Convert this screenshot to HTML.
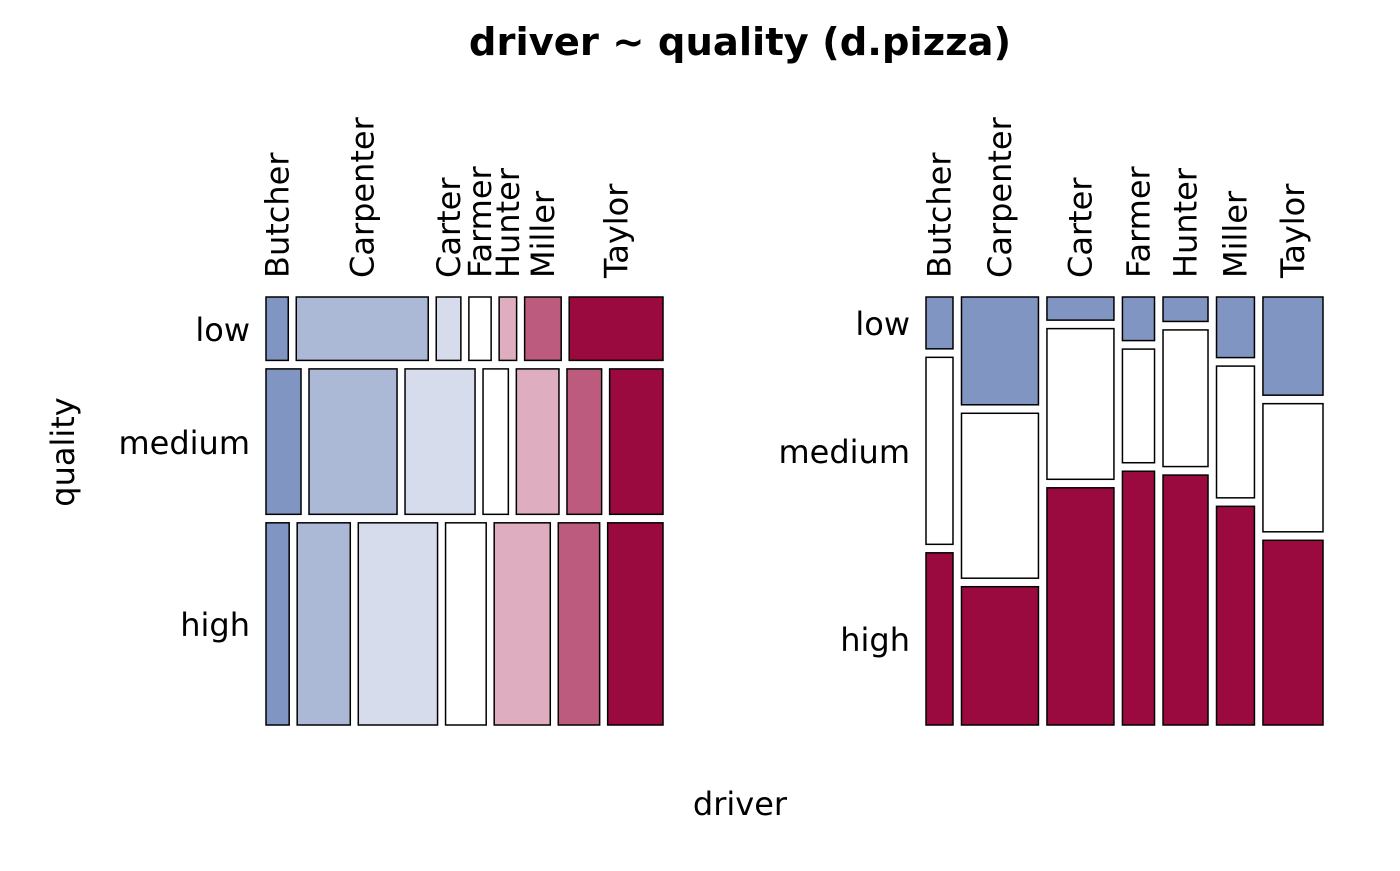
<!DOCTYPE html>
<html><head><meta charset="utf-8"><style>
body{margin:0;background:#fff}
svg text{font-family:"DejaVu Sans","Liberation Sans",sans-serif;fill:#000}
</style></head><body>
<svg id="chart" width="1400" height="866" xmlns="http://www.w3.org/2000/svg">
<text x="740" y="55" text-anchor="middle" font-size="38.5" font-weight="bold">driver ~ quality (d.pizza)</text>
<text x="740" y="815" text-anchor="middle" font-size="32">driver</text>
<text transform="translate(74,452) rotate(-90)" text-anchor="middle" font-size="32">quality</text>
<g id="left"></g>
<g id="right"></g>
</svg>
<script>
const drivers = ["Butcher","Carpenter","Carter","Farmer","Hunter","Miller","Taylor"];
const qualities = ["low","medium","high"];
const lowCounts = [28,166,31,28,22,46,118];
const mediumCounts = [101,254,202,73,123,100,154];
const highCounts = [93,213,318,163,225,166,222];
const driverColors = ["#8195c2","#abb8d6","#d6dcec","#ffffff","#deadbf","#bc5b7e","#9b0a3f"];
const qualityColors = ["#8195c2","#ffffff","#9b0a3f"];

const counts = [lowCounts, mediumCounts, highCounts];
const NS = "http://www.w3.org/2000/svg";
const yTop = 297, yBottom = 725, gap = 8.5;
function rect(g, x, y, w, h, fill, name){
  const r = document.createElementNS(NS,"rect");
  r.setAttribute("x",x);r.setAttribute("y",y);r.setAttribute("width",Math.max(w,0));r.setAttribute("height",Math.max(h,0));
  r.setAttribute("fill",fill);r.setAttribute("stroke","#000");r.setAttribute("stroke-width","1.5");
  
  
  g.appendChild(r);
}
function label(g, x, y, txt, anchor, rot, name){
  const t = document.createElementNS(NS,"text");
  t.setAttribute("font-size","32");
  t.setAttribute("text-anchor",anchor);
  if(rot){ t.setAttribute("transform",`translate(${x},${y}) rotate(-90)`); t.setAttribute("dy","0.35em"); }
  else { t.setAttribute("x",x); t.setAttribute("y",y); t.setAttribute("dy","0.35em"); }
  t.textContent = txt;
  
  
  g.appendChild(t);
}
const sum = a => a.reduce((s,v)=>s+v,0);
const total = sum(counts.map(sum));

(function(){
  const g = document.getElementById("left");
  const x0 = 266, x1 = 663;
  const availH = (yBottom-yTop) - gap*(qualities.length-1);
  const availW = (x1-x0) - 8*(drivers.length-1);
  let y = yTop;
  qualities.forEach((q,qi)=>{
    const rowT = sum(counts[qi]);
    const h = availH*rowT/total;
    let x = x0;
    drivers.forEach((d,di)=>{
      const w = availW*counts[qi][di]/rowT;
      rect(g,x,y,w,h,driverColors[di],`left-cell-${q}-${d.toLowerCase()}`);
      if(qi===0) label(g,x+w/2,278,d,"start",true,`left-driver-label-${d.toLowerCase()}`);
      x += w+8;
    });
    label(g,250,y+h/2+1,q,"end",false,`left-quality-label-${q}`);
    y += h+gap;
  });
})();

(function(){
  const g = document.getElementById("right");
  const x0 = 926, x1 = 1323;
  const availW = (x1-x0) - 8.5*(drivers.length-1);
  const availH = (yBottom-yTop) - gap*(qualities.length-1);
  let x = x0;
  drivers.forEach((d,di)=>{
    const colT = counts[0][di]+counts[1][di]+counts[2][di];
    const w = availW*colT/total;
    let y = yTop;
    qualities.forEach((q,qi)=>{
      const h = availH*counts[qi][di]/colT;
      rect(g,x,y,w,h,qualityColors[qi],`right-cell-${d.toLowerCase()}-${q}`);
      if(di===0) label(g,910,y+h/2+1,q,"end",false,`right-quality-label-${q}`);
      y += h+gap;
    });
    label(g,x+w/2,278,d,"start",true,`right-driver-label-${d.toLowerCase()}`);
    x += w+8.5;
  });
})();
</script>
</body></html>
